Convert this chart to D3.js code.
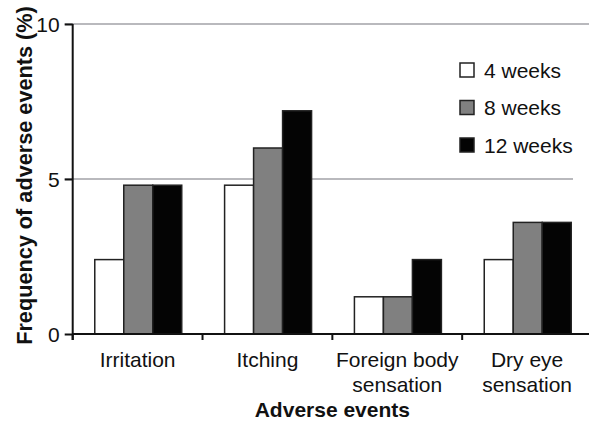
<!DOCTYPE html>
<html>
<head>
<meta charset="utf-8">
<script src="https://cdn.jsdelivr.net/npm/d3@7"></script>
<style>
  body { margin: 0; background: #fff; }
  text { font-family: "Liberation Sans", Arial, sans-serif; fill: #111; }
</style>
</head>
<body>
<svg id="chart" width="589" height="421"></svg>
<script>
// chart data
const categories = [['Irritation'], ['Itching'], ['Foreign body', 'sensation'], ['Dry eye', 'sensation']];
const series = ['4 weeks', '8 weeks', '12 weeks'];
const week4 = [2.4, 4.8, 1.2, 2.4];
const week8 = [4.8, 6.0, 1.2, 3.6];
const week12 = [4.8, 7.2, 2.4, 3.6];
const yTicks = [0, 5, 10];
const colors = ['#ffffff', '#808080', '#040404'];

const width = 589, height = 421;
const plotLeft = 72.7, plotRight = 592, plotTop = 24, plotBottom = 334;

const svg = d3.select('#chart');
const values = [week4, week8, week12];
const catKeys = categories.map(c => c.join(' '));

const x0 = d3.scaleBand().domain(catKeys).range([plotLeft, plotRight]);
const bw = x0.bandwidth();
const x1 = d3.scaleBand().domain(series).range([bw * 0.17, bw * 0.84]);
const y = d3.scaleLinear().domain([0, 10]).range([plotBottom, plotTop]);

// gridlines
svg.append('g')
    .selectAll('line')
    .data(yTicks.filter(d => d > 0))
    .enter()
    .append('line')
    .attr('x1', plotLeft - 8)
    .attr('x2', width)
    .attr('y1', d => y(d))
    .attr('y2', d => y(d))
    .attr('stroke', '#b9b9bd')
    .attr('stroke-width', 2);

// bars
const groups = svg.append('g')
    .selectAll('g')
    .data(catKeys)
    .enter()
    .append('g')
    .attr('transform', d => `translate(${x0(d)},0)`);

groups.selectAll('rect')
    .data((d, i) => series.map((s, j) => ({ s, j, v: values[j][i] })))
    .enter()
    .append('rect')
    .attr('x', d => x1(d.s))
    .attr('width', x1.bandwidth())
    .attr('y', d => y(d.v))
    .attr('height', d => y(0) - y(d.v))
    .attr('fill', d => colors[d.j])
    .attr('stroke', '#222')
    .attr('stroke-width', 1.5);

// white panel at the right edge (legend box edge)
svg.append('rect')
    .attr('x', 573).attr('y', 30)
    .attr('width', width - 573).attr('height', 160)
    .attr('fill', '#fff');

// y axis
const yAxis = svg.append('g')
    .attr('transform', `translate(${plotLeft},0)`)
    .call(d3.axisLeft(y).tickValues(yTicks).tickSize(8).tickPadding(5).tickFormat(d3.format('d')));
yAxis.select('.domain').attr('d', `M0,${plotTop}V${plotBottom + 6}`).attr('stroke', '#111').attr('stroke-width', 2);
yAxis.selectAll('.tick line').attr('stroke', '#111').attr('stroke-width', 2);
yAxis.selectAll('.tick text')
    .style('font-size', '21px')
    .attr('fill', '#222')
    .attr('dy', '0.36em');

// x axis
svg.append('line')
    .attr('x1', plotLeft).attr('x2', width)
    .attr('y1', plotBottom).attr('y2', plotBottom)
    .attr('stroke', '#111').attr('stroke-width', 2);

svg.append('g')
    .selectAll('line')
    .data(catKeys)
    .enter()
    .append('line')
    .attr('x1', d => x0(d)).attr('x2', d => x0(d))
    .attr('y1', plotBottom).attr('y2', plotBottom + 6)
    .attr('stroke', '#111').attr('stroke-width', 2);

const xLabels = svg.append('g')
    .selectAll('text')
    .data(categories)
    .enter()
    .append('text')
    .attr('x', (d, i) => x0(catKeys[i]) + bw / 2)
    .attr('y', 367)
    .attr('text-anchor', 'middle')
    .style('font-size', '21px')
    .attr('fill', '#222');

xLabels.selectAll('tspan')
    .data(d => d)
    .enter()
    .append('tspan')
    .attr('x', function () { return d3.select(this.parentNode).attr('x'); })
    .attr('dy', (d, i) => i === 0 ? 0 : 25)
    .text(d => d);

// axis titles
svg.append('text')
    .attr('transform', `translate(32,175.5) rotate(-90)`)
    .attr('text-anchor', 'middle')
    .style('font-size', '21.7px')
    .style('font-weight', 'bold')
    .text('Frequency of adverse events (%)');

svg.append('text')
    .attr('x', (plotLeft + plotRight) / 2)
    .attr('y', 417)
    .attr('text-anchor', 'middle')
    .style('font-size', '21px')
    .style('font-weight', 'bold')
    .text('Adverse events');

// legend (clipped at the box edge)
svg.append('clipPath').attr('id', 'legend-clip')
    .append('rect').attr('x', 440).attr('y', 40).attr('width', 133).attr('height', 130);

const legend = svg.append('g').attr('clip-path', 'url(#legend-clip)');
const legendItems = legend.selectAll('g')
    .data(series)
    .enter()
    .append('g')
    .attr('transform', (d, i) => `translate(460,${70 + i * 37.5})`);

legendItems.append('rect')
    .attr('x', 0).attr('y', -7)
    .attr('width', 14).attr('height', 14)
    .attr('fill', (d, i) => colors[i])
    .attr('stroke', '#222')
    .attr('stroke-width', 1.5);

legendItems.append('text')
    .attr('x', 24)
    .attr('y', 0)
    .attr('dy', '0.36em')
    .style('font-size', '21px')
    .attr('fill', '#222')
    .text(d => d);
</script>
</body>
</html>
